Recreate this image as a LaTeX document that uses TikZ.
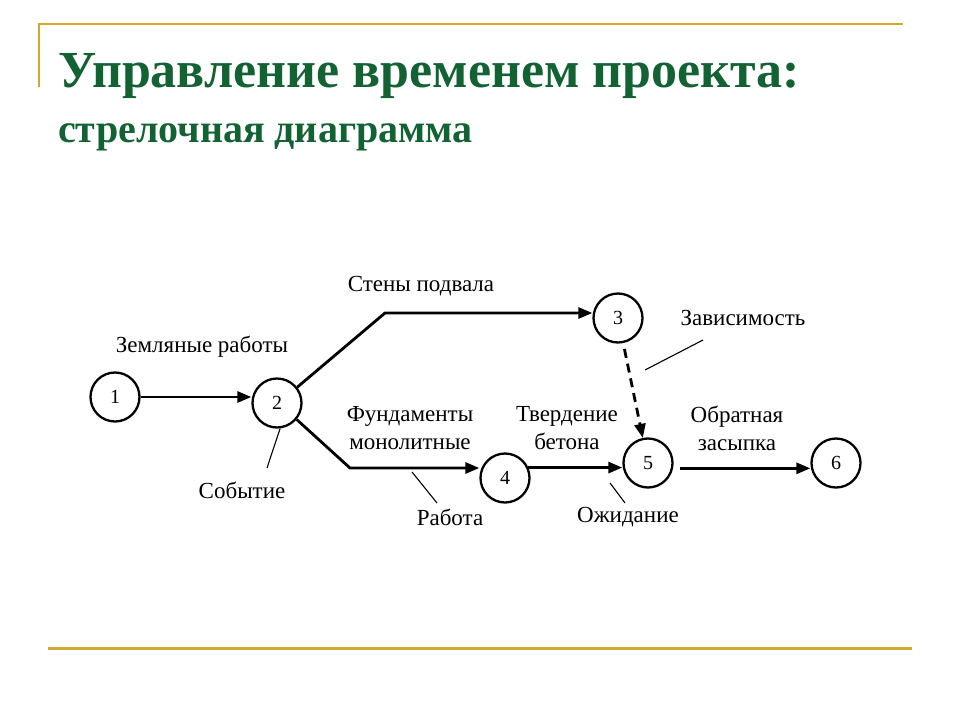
\documentclass[tikz,border=0pt]{standalone}
\usepackage{fontspec}
\setmainfont{Liberation Serif}
\usetikzlibrary{arrows.meta,calc}
\definecolor{titlegreen}{RGB}{18,98,52}
\definecolor{gold}{RGB}{212,168,48}
\begin{document}
\begin{tikzpicture}[x=1pt,y=-1pt,
  ev/.style={circle,draw,line width=2.3pt,minimum size=49pt,inner sep=0pt,font=\fontsize{20}{20}\selectfont},
  work/.style={line width=2.8pt,-{Triangle[length=14pt,width=11pt]}},
  lbl/.style={font=\fontsize{23}{28}\selectfont,align=center,inner sep=0pt},
  ptr/.style={line width=1.1pt}]
\useasboundingbox (0,0) rectangle (960,720);
% frame lines
\draw[gold,line width=2.5pt] (39,87) -- (39,24) -- (903,24);
\draw[gold,line width=3pt] (48,648) -- (912,648);
% title
\node[anchor=base west,inner sep=0pt,text=titlegreen,font=\fontsize{52}{52}\selectfont\bfseries] (t1) at (58,87) {Управление временем проекта:};
\node[anchor=base west,inner sep=0pt,text=titlegreen,font=\fontsize{40}{40}\selectfont\bfseries] (t2) at (58,142) {стрелочная диаграмма};
% events
\node[ev] (n1) at (115,397) {1};
\node[ev] (n2) at (277,403) {2};
\node[ev] (n3) at (618,318) {3};
\node[ev] (n4) at (505,478) {4};
\node[ev] (n5) at (648,463) {5};
\node[ev] (n6) at (836,463) {6};
% bend points
\coordinate (k1) at (385,313);
\coordinate (k2) at (350,468);
% works
\draw[work] (n1.east) -- (n1.east -| n2.west);
\draw[work] (n2.38) -- (k1) -- (k1 -| n3.west);
\draw[work] (n2.-40) -- (k2) -- (k2 -| n4.west);
\draw[work] (n4.24) -- (n4.24 -| n5.west);
\draw[work,shorten <=7pt] (n5.-12) -- (n5.-12 -| n6.west);
\draw[line width=2.8pt,dash pattern=on 9pt off 6pt,-{Triangle[length=14pt,width=11pt]},shorten <=6pt] (n3) -- (n5);
% labels
\node[lbl] (l12) at (202,347) {Земляные работы};
\node[lbl] (l23) at (421,286) {Стены подвала};
\node[lbl] (l24) at (410,428) {Фундаменты\\монолитные};
\node[lbl] (l45) at (567,428) {Твердение\\бетона};
\node[lbl] (l56) at (737,428) {Обратная\\засыпка};
\node[lbl] (ldep) at (743,318) {Зависимость};
\node[lbl] (lev) at (242,490) {Событие};
\node[lbl] (lwork) at (450,517) {Работа};
\node[lbl] (lwait) at (628,517) {Ожидание};
% pointers
\coordinate (pev) at (267,468);
\coordinate (pw1) at (412,472);
\coordinate (pw2) at (437,503);
\coordinate (pa1) at (610,483);
\coordinate (pa2) at (625,503);
\coordinate (pd1) at (645,370);
\coordinate (pd2) at (703,340);
\draw[ptr] (n2.-83) -- (pev);
\draw[ptr] (pw1) -- (pw2);
\draw[ptr] (pa1) -- (pa2);
\draw[ptr] (pd1) -- (pd2);
\end{tikzpicture}
\end{document}
